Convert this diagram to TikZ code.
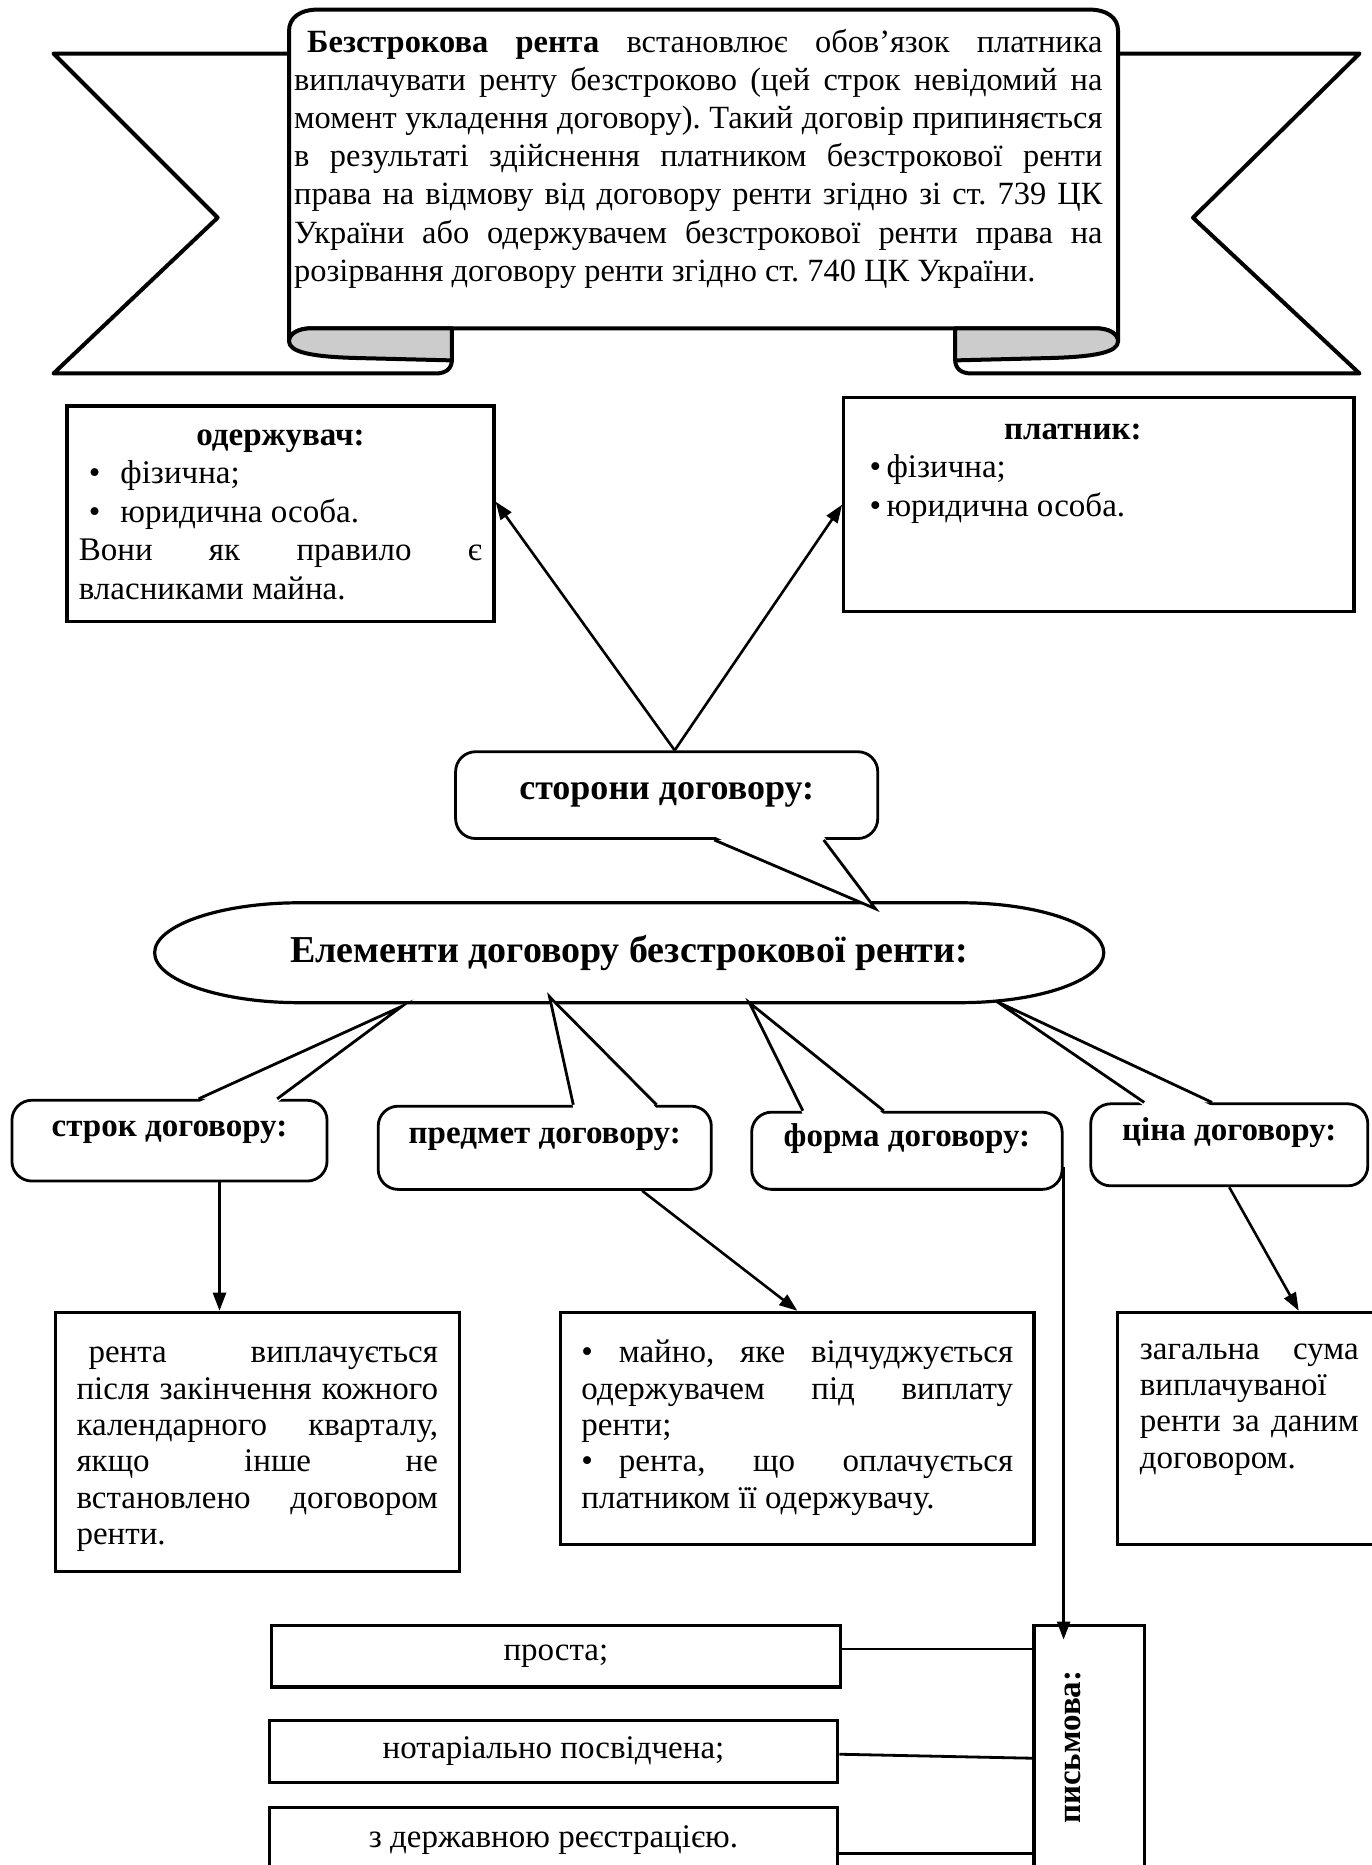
\documentclass[tikz,border=0pt]{standalone}
\usepackage{fontspec}
\setmainfont{Liberation Serif}
\usetikzlibrary{arrows.meta,positioning,calc}
\frenchspacing

\begin{document}
\begin{tikzpicture}[
x=0.5945pt,y=-0.5945pt,
ribbon/.style={draw,line width=2pt,fill=white,line join=round},
curl/.style={draw,line width=2pt,fill=gray!40,line join=round},
txtbox/.style={draw,line width=1.6pt,anchor=north west,inner xsep=0pt,inner ysep=0pt,fill=white},
callout/.style={draw,line width=1.4pt,rounded corners=10pt,fill=white,inner sep=0pt,font=\fontsize{16.5}{19}\selectfont\bfseries,text height=9pt,text depth=13pt},
formbox/.style={draw,line width=1.6pt,anchor=north west,inner sep=0pt,minimum width=284.2pt,minimum height=30.9pt,font=\fontsize{16.5}{19}\selectfont},
wedge/.style={line width=1.4pt,line join=miter},
arrow/.style={-{Triangle[length=9pt,width=6.5pt]},line width=1.3pt},
link/.style={line width=1.4pt}
]
\useasboundingbox (0,0) rectangle (1153,1568);

% ribbon ends
\draw[ribbon] (243,45) -- (45,45) -- (183,183) -- (45,314) -- (366,314) .. controls (375,314) and (380,310) .. (380,302) -- (380,276);
\draw[ribbon] (940,45) -- (1143,45) -- (1003,183) -- (1143,314) -- (817,314) .. controls (808,314) and (803,310) .. (803,302) -- (803,276);
% scroll body
\draw[ribbon] (243,287) -- (243,26) .. controls (243,15) and (252,8) .. (268,8) -- (915,8) .. controls (931,8) and (940,15) .. (940,26) -- (940,287) .. controls (940,281) and (933,276) .. (921,276) -- (262,276) .. controls (250,276) and (243,281) .. (243,287) -- cycle;
\draw[curl] (380,276) -- (262,276) .. controls (250,276) and (243,281) .. (243,287) .. controls (243,296) and (262,300) .. (300,301) -- (380,303) -- cycle;
\draw[curl] (803,276) -- (921,276) .. controls (933,276) and (940,281) .. (940,287) .. controls (940,296) and (921,300) .. (883,301) -- (803,303) -- cycle;

\node[anchor=north west,inner sep=0pt] (rentatext) at (247,21) {\parbox[t]{404pt}{\fontsize{16.2}{19.1}\selectfont
\strut\hspace*{6.5pt}\textbf{Безстрокова рента} встановлює обов’язок платника\linebreak
виплачувати ренту безстроково (цей строк невідомий на\linebreak
момент укладення договору). Такий договір припиняється\linebreak
в результаті здійснення платником безстрокової ренти\linebreak
права на відмову від договору ренти згідно зі ст. 739 ЦК\linebreak
України або одержувачем безстрокової ренти права на\linebreak
розірвання договору ренти згідно ст. 740 ЦК України.}};

% parties
\node[txtbox,inner xsep=5.9pt] (odb) at (55,340) {\parbox[t][107.6pt][t]{201.6pt}{\fontsize{16.5}{19.2}\selectfont
\vspace*{6.3pt}
{\centering\strut\textbf{одержувач:}\par}
\hspace*{5pt}\makebox[15.8pt][l]{•}фізична;\par
\hspace*{5pt}\makebox[15.8pt][l]{•}юридична особа.\par
Вони як правило є\linebreak власниками майна.}};
\node[txtbox] (plat) at (708,333) {\parbox[t][107pt][t]{255pt}{\fontsize{16.5}{19.2}\selectfont
\vspace*{7.5pt}
{\centering\strut\textbf{платник:}\hspace*{26pt}\par}
\hspace*{13pt}\makebox[8.4pt][l]{•}фізична;\par
\hspace*{13pt}\makebox[8.4pt][l]{•}юридична особа.\par}};

\node[callout,minimum width=211pt,minimum height=43.4pt,font=\fontsize{18}{21}\selectfont\bfseries,text height=13pt,text depth=9pt] (stor) at (560.5,668.5) {сторони договору:};
\coordinate (storTip) at (736,764);

% main element
\draw[line width=1.6pt,fill=white] (252,759) -- (807,759) .. controls (874,759) and (928,778) .. (928,801) .. controls (928,824) and (874,843) .. (807,843) -- (252,843) .. controls (185,843) and (130,824) .. (130,801) .. controls (130,778) and (185,759) .. (252,759) -- cycle;
\node[font=\fontsize{19}{22}\selectfont\bfseries] (elem) at (529,801) {Елементи договору безстрокової ренти:};

\fill[white] ($(stor.south)+(40,-3)$) -- (storTip) -- ($(stor.south)+(132,-3)$) -- cycle;
\draw[wedge] ($(stor.south)+(40,0)$) -- (storTip) -- ($(stor.south)+(132,0)$);

\node[callout,minimum width=157.5pt,minimum height=40.4pt] (strok) at (142.5,959) {строк договору:};
\node[callout,minimum width=166.5pt,minimum height=41.6pt] (predmet) at (458,965) {предмет договору:};
\node[callout,minimum width=155.2pt,minimum height=38.6pt] (forma) at (762.5,967.5) {форма договору:};
\node[callout,minimum width=138.5pt,minimum height=41pt] (cina) at (1033.5,962.5) {ціна договору:};
\coordinate (strokTip) at (338,846);
\coordinate (predmetTip) at (462,838);
\coordinate (formaTip) at (630,843);
\coordinate (cinaTip) at (838,842);
\fill[white] ($(strok.north)+(24.5,3)$) -- (strokTip) -- ($(strok.north)+(90.5,3)$) -- cycle;
\draw[wedge] ($(strok.north)+(24.5,0)$) -- (strokTip) -- ($(strok.north)+(90.5,0)$);
\fill[white] ($(predmet.north)+(24,3)$) -- (predmetTip) -- ($(predmet.north)+(94,3)$) -- cycle;
\draw[wedge] ($(predmet.north)+(24,0)$) -- (predmetTip) -- ($(predmet.north)+(94,0)$);
\fill[white] ($(forma.north)+(-87.5,3)$) -- (formaTip) -- ($(forma.north)+(-19.5,3)$) -- cycle;
\draw[wedge] ($(forma.north)+(-87.5,0)$) -- (formaTip) -- ($(forma.north)+(-19.5,0)$);
\fill[white] ($(cina.north)+(-71.5,3)$) -- (cinaTip) -- ($(cina.north)+(-14.5,3)$) -- cycle;
\draw[wedge] ($(cina.north)+(-71.5,0)$) -- (cinaTip) -- ($(cina.north)+(-14.5,0)$);

% element contents
\node[txtbox,inner xsep=10.7pt] (renta) at (45,1102) {\parbox[t][129.6pt][t]{180.7pt}{\fontsize{16.5}{18.2}\selectfont
\vspace*{12.4pt}
\strut\hspace*{6pt}рента виплачується\linebreak
після закінчення кожного\linebreak
календарного кварталу,\linebreak
якщо інше не\linebreak
встановлено договором\linebreak
ренти.}};
\node[txtbox,inner xsep=10.4pt] (majno) at (470,1102) {\parbox[t][115.9pt][t]{215.8pt}{\fontsize{16.5}{18.2}\selectfont
\vspace*{12.4pt}
\strut• майно, яке відчуджується\linebreak
одержувачем під виплату\linebreak
ренти;\par
•\hspace{13pt}рента, що оплачується\linebreak
платником її одержувачу.}};
\node[txtbox,inner xsep=11.3pt] (zag) at (938,1102) {\parbox[t][115.9pt][t]{109.4pt}{\fontsize{16.5}{18.2}\selectfont
\vspace*{10.6pt}
\strut загальна сума\linebreak
виплачуваної\linebreak
ренти за даним\linebreak
договором.}};

% written form
\node[txtbox,minimum width=55.3pt,minimum height=139.7pt] (pysm) at (868,1365) {};
\node[rotate=90,font=\fontsize{16.5}{19}\selectfont\bfseries] (pysmlabel) at (902,1469) {письмова:};
\node[formbox] (prosta) at (227,1365) {проста;};
\node[formbox] (notar) at (225,1445) {нотаріально посвідчена;};
\node[formbox,minimum height=46.4pt,text height=9pt,text depth=14.8pt] (derzh) at (225,1518) {з державною реєстрацією.};

% connectors
\draw[arrow] ([xshift=4pt]stor.north) -- ([yshift=6pt]odb.east);
\draw[arrow] ([xshift=4pt]stor.north) -- (plat.west);
\draw[arrow] ([xshift=25pt]strok.south) -- ([xshift=25pt]strok.south |- renta.north);
\draw[arrow] ([xshift=48.7pt]predmet.south) -- (majno.north);
\draw[arrow] (cina.south) -- ([xshift=91.5pt]zag.north west);
\draw[arrow] ([yshift=-8pt]forma.east) -- ([yshift=-8pt]forma.east |- pysm.north);
\draw[link] ([yshift=3.5pt]prosta.east) -- ([yshift=3.5pt]prosta.east -| pysm.west);
\draw[link] ([yshift=-1.5pt]notar.east) -- ([yshift=-3.5pt]notar.east -| pysm.west);
\draw[link] (derzh.east) -- (derzh.east -| pysm.west);
\end{tikzpicture}
\end{document}
